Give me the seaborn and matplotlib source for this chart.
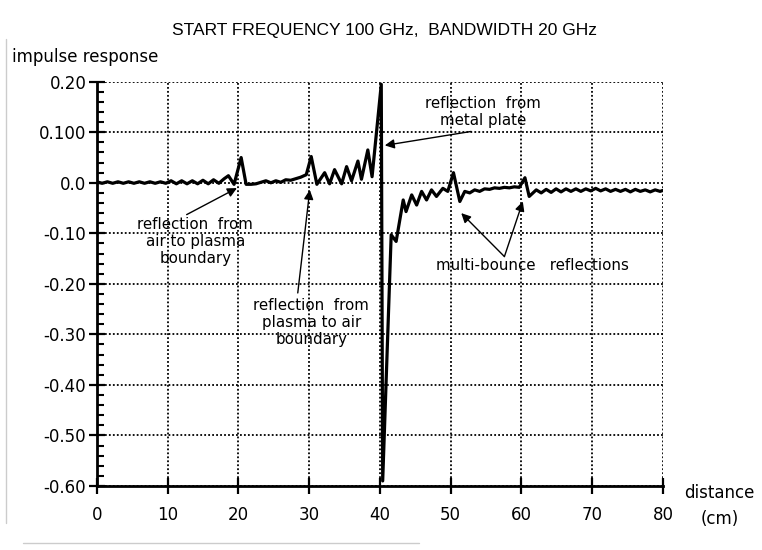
import numpy as np
import pandas as pd
import matplotlib
matplotlib.use("Agg")
import matplotlib.pyplot as plt
import seaborn as sns
from matplotlib.ticker import FixedLocator, MultipleLocator
from matplotlib.lines import Line2D

# ---------------- data ----------------
distance_cm = [0.0, 0.75, 1.5, 2.25, 3.0, 3.75, 4.5, 5.25, 6.0, 6.75, 7.5, 8.25,
               9.0, 9.75, 10.5, 11.25, 12.0, 12.75, 13.5, 14.25, 15.0, 15.75, 16.5,
               17.25, 18.0, 18.6, 19.4, 20.4, 21.1, 21.8, 22.5, 23.2, 23.9, 24.6,
               25.3, 26.0, 26.7, 27.4, 28.1, 28.8, 29.6, 30.3, 31.1, 32.2, 32.9,
               33.6, 34.6, 35.3, 36.0, 36.9, 37.4, 38.3, 38.9, 40.2, 40.4, 41.6,
               42.3, 43.3, 43.7, 44.5, 45.2, 45.9, 46.6, 47.3, 48.0, 48.9, 49.6,
               50.4, 51.3, 52.0, 52.7, 53.4, 54.1, 54.8, 55.5, 56.2, 56.9, 57.6,
               58.3, 59.0, 59.7, 60.5, 61.1, 62.1, 62.8, 63.5, 64.2, 64.9, 65.6,
               66.3, 67.0, 67.7, 68.4, 69.1, 69.8, 70.5, 71.2, 71.9, 72.6, 73.3,
               74.0, 74.7, 75.4, 76.1, 76.8, 77.5, 78.2, 78.9, 79.6, 80.0]
impulse = [0.002, -0.001, 0.002, -0.001, 0.002, -0.001, 0.002, -0.001, 0.002, -0.001,
           0.002, -0.001, 0.002, -0.001, 0.004, -0.002, 0.004, -0.002, 0.004, -0.002,
           0.005, -0.002, 0.006, -0.001, 0.008, 0.014, -0.003, 0.050, -0.003, -0.003,
           -0.002, 0.001, 0.004, 0.000, 0.004, 0.001, 0.006, 0.005, 0.008, 0.011,
           0.016, 0.052, -0.003, 0.020, -0.002, 0.026, -0.002, 0.032, 0.004, 0.043,
           0.007, 0.065, 0.012, 0.195, -0.590, -0.103, -0.116, -0.034, -0.057, -0.024,
           -0.044, -0.017, -0.034, -0.014, -0.027, -0.011, -0.017, 0.020, -0.037,
           -0.017, -0.020, -0.014, -0.017, -0.012, -0.013, -0.010, -0.011, -0.009,
           -0.010, -0.008, -0.009, 0.010, -0.027, -0.014, -0.020, -0.013, -0.019,
           -0.012, -0.018, -0.012, -0.017, -0.012, -0.017, -0.012, -0.016, -0.011,
           -0.016, -0.012, -0.017, -0.013, -0.017, -0.013, -0.018, -0.013, -0.017,
           -0.014, -0.018, -0.014, -0.017, -0.015]

x_ticks = [0, 10, 20, 30, 40, 50, 60, 70, 80]
x_tick_labels = ["0", "10", "20", "30", "40", "50", "60", "70", "80"]
y_ticks = [0.2, 0.1, 0.0, -0.1, -0.2, -0.3, -0.4, -0.5, -0.6]
y_tick_labels = ["0.20", "0.100", "0.0", "-0.10", "-0.20", "-0.30", "-0.40", "-0.50", "-0.60"]

title_text = "START FREQUENCY 100 GHz,  BANDWIDTH 20 GHz"
y_label_text = "impulse response"
x_label_text = "distance\n(cm)"

# ---------------- style ----------------
sns.set_style("ticks")
plt.rcParams['font.family'] = ['DejaVu Sans']
plt.rcParams['text.color'] = 'black'
plt.rcParams['axes.labelcolor'] = 'black'
plt.rcParams['xtick.color'] = 'black'
plt.rcParams['ytick.color'] = 'black'

fig = plt.figure(figsize=(7.62, 5.5), dpi=100)
ax = fig.add_axes([0.127, 0.1164, 0.743, 0.735])

df = pd.DataFrame({"distance": distance_cm, "impulse": impulse})
sns.lineplot(data=df, x="distance", y="impulse", ax=ax, color="black",
             linewidth=2.3, sort=False, estimator=None, zorder=3)

ax.set_xlim(0, 80)
ax.set_ylim(-0.6, 0.2)
ax.set_xlabel("")
ax.set_ylabel("")

ax.xaxis.set_major_locator(FixedLocator(x_ticks))
ax.set_xticklabels(x_tick_labels)
ax.yaxis.set_major_locator(FixedLocator(y_ticks))
ax.set_yticklabels(y_tick_labels)
ax.yaxis.set_minor_locator(MultipleLocator(0.02))

ax.tick_params(axis='both', which='major', direction='inout', length=11,
               width=1.6, color='black', labelsize=12, labelcolor='black')
ax.tick_params(axis='y', which='major', pad=2)
ax.tick_params(axis='x', which='major', pad=9)
ax.tick_params(axis='y', which='minor', direction='in', length=5, width=1.5,
               color='black')

for s in ['top', 'right']:
    ax.spines[s].set_visible(False)
for s in ['left', 'bottom']:
    ax.spines[s].set_linewidth(2.0)
    ax.spines[s].set_color('black')

ax.set_axisbelow(True)
ax.grid(True, which='major', color='black', linestyle=(0, (1, 1.2)), linewidth=1.3)

# ---------------- texts ----------------
fig.text(0.505, 0.945, title_text, ha='center', va='center', fontsize=12.5,
         color='black', family=['Liberation Sans', 'DejaVu Sans'])
fig.text(0.016, 0.896, y_label_text, ha='left', va='center', fontsize=12,
         color='black')
fig.text(0.944, 0.08, x_label_text, ha='center', va='center', fontsize=12,
         linespacing=1.55, color='black')

ann_fs = 10.8
arrow_kw = dict(arrowstyle='-|>', color='black', lw=1.0, mutation_scale=14,
                shrinkA=0, shrinkB=0)

ax.text(13.9, -0.068, "reflection  from\nair to plasma\nboundary", ha='center',
        va='top', fontsize=ann_fs, linespacing=1.15, zorder=5, color='black')
ax.annotate("", xy=(19.8, -0.0105), xytext=(12.7, -0.063), arrowprops=arrow_kw)

ax.text(30.3, -0.228, "reflection  from\nplasma to air\nboundary", ha='center',
        va='top', fontsize=ann_fs, linespacing=1.15, zorder=5, color='black')
ax.annotate("", xy=(30.1, -0.014), xytext=(28.4, -0.218), arrowprops=arrow_kw)

ax.text(54.6, 0.172, "reflection  from\nmetal plate", ha='center',
        va='top', fontsize=ann_fs, linespacing=1.15, zorder=5, color='black')
ax.annotate("", xy=(40.7, 0.074), xytext=(52.9, 0.1016), arrowprops=arrow_kw)

ax.text(61.5, -0.164, "multi-bounce   reflections", ha='center', va='center',
        fontsize=ann_fs, zorder=5, color='black')
ax.annotate("", xy=(51.5, -0.060), xytext=(57.6, -0.146), arrowprops=arrow_kw)
ax.annotate("", xy=(60.2, -0.037), xytext=(57.6, -0.146), arrowprops=arrow_kw)

# faint scan edges
fig.add_artist(Line2D([0.008, 0.008], [0.05, 0.93], color='#cccccc', lw=1.0))
fig.add_artist(Line2D([0.03, 0.55], [0.013, 0.013], color='#cccccc', lw=1.0))

fig.savefig("out.png", dpi=100)
